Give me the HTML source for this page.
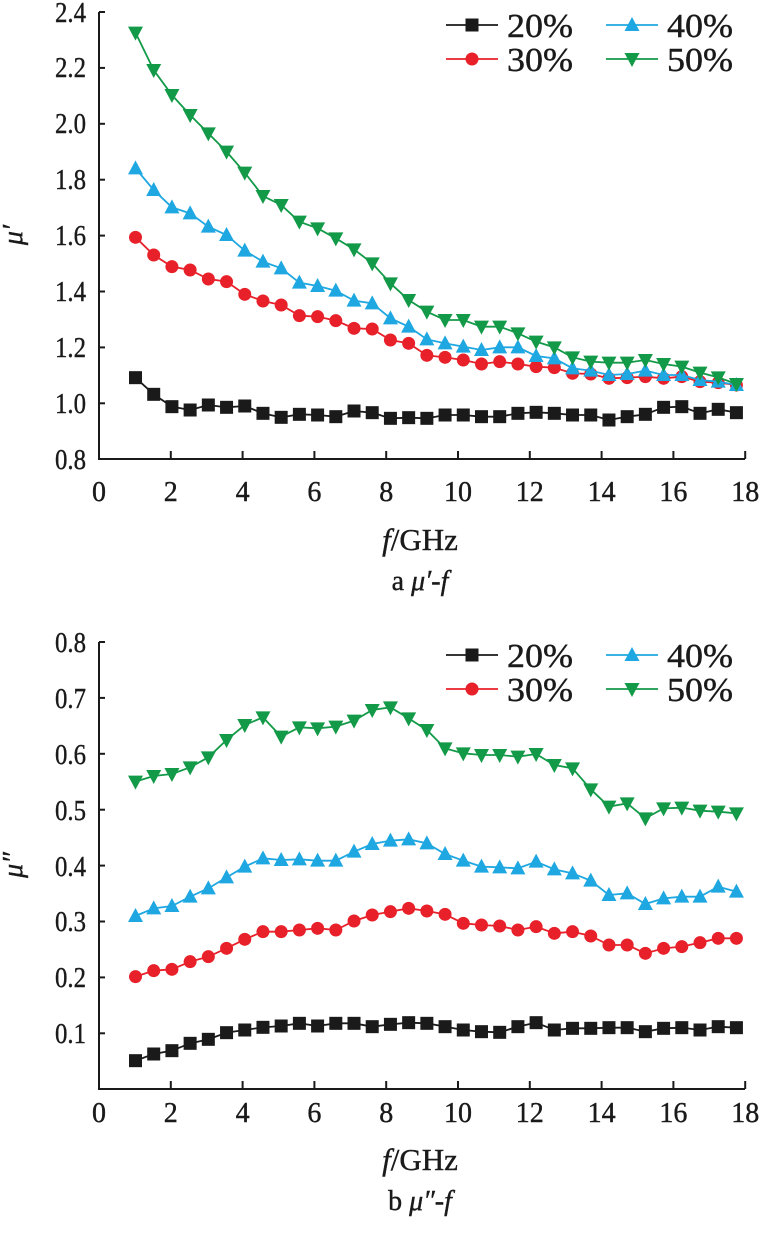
<!DOCTYPE html>
<html><head><meta charset="utf-8"><style>
html,body{margin:0;padding:0;background:#fff}
svg{display:block}
text{font-family:"Liberation Serif","DejaVu Serif",serif;fill:#1a1a1a;stroke:#1a1a1a;stroke-width:0.4}
</style></head><body>
<svg id="s" width="763" height="1234" viewBox="0 0 763 1234" xmlns="http://www.w3.org/2000/svg">
<g id="axes" stroke="#1a1a1a" stroke-width="2" fill="none">
<path d="M99 12 V459 H745"/>
<path d="M99 642 V1089 H745"/>
</g>
<g font-size="28" text-anchor="end" lengthAdjust="spacingAndGlyphs">
<text x="86" y="22" textLength="31" lengthAdjust="spacingAndGlyphs">2.4</text>
<text x="86" y="77" textLength="31" lengthAdjust="spacingAndGlyphs">2.2</text>
<text x="86" y="133" textLength="31" lengthAdjust="spacingAndGlyphs">2.0</text>
<text x="86" y="189" textLength="31" lengthAdjust="spacingAndGlyphs">1.8</text>
<text x="86" y="245" textLength="31" lengthAdjust="spacingAndGlyphs">1.6</text>
<text x="86" y="301" textLength="31" lengthAdjust="spacingAndGlyphs">1.4</text>
<text x="86" y="357" textLength="31" lengthAdjust="spacingAndGlyphs">1.2</text>
<text x="86" y="413" textLength="31" lengthAdjust="spacingAndGlyphs">1.0</text>
<text x="86" y="469" textLength="31" lengthAdjust="spacingAndGlyphs">0.8</text>
<text x="86" y="652" textLength="31" lengthAdjust="spacingAndGlyphs">0.8</text>
<text x="86" y="708" textLength="31" lengthAdjust="spacingAndGlyphs">0.7</text>
<text x="86" y="764" textLength="31" lengthAdjust="spacingAndGlyphs">0.6</text>
<text x="86" y="820" textLength="31" lengthAdjust="spacingAndGlyphs">0.5</text>
<text x="86" y="876" textLength="31" lengthAdjust="spacingAndGlyphs">0.4</text>
<text x="86" y="931" textLength="31" lengthAdjust="spacingAndGlyphs">0.3</text>
<text x="86" y="987" textLength="31" lengthAdjust="spacingAndGlyphs">0.2</text>
<text x="86" y="1043" textLength="31" lengthAdjust="spacingAndGlyphs">0.1</text>
</g>
<g id="xt" font-size="28" text-anchor="middle"></g>
<text x="22" y="235" font-size="28" font-style="italic" transform="rotate(-90 22 235)" text-anchor="middle">μ′</text>
<text x="22" y="865" font-size="28" font-style="italic" transform="rotate(-90 22 865)" text-anchor="middle">μ″</text>
<text x="420" y="550" font-size="31" text-anchor="middle"><tspan font-style="italic">f</tspan>/GHz</text>
<text x="420" y="590" font-size="28" text-anchor="middle">a <tspan font-style="italic">μ′-f</tspan></text>
<text x="420" y="1170" font-size="31" text-anchor="middle"><tspan font-style="italic">f</tspan>/GHz</text>
<text x="420" y="1210" font-size="28" text-anchor="middle">b <tspan font-style="italic">μ″-f</tspan></text>
<g id="data"></g>
</svg>
<script>
var NS="http://www.w3.org/2000/svg",s=document.getElementById('data'),xt=document.getElementById('xt');
var axes=document.getElementById('axes');
function el(t,a,p){var e=document.createElementNS(NS,t);for(var k in a)e.setAttribute(k,a[k]);(p||s).appendChild(e);return e;}
for(var i=0;i<=9;i++){var x=99+i*2*35.9;
 if(i>0){el('line',{x1:x,y1:459,x2:x,y2:451},axes);el('line',{x1:x,y1:1089,x2:x,y2:1081},axes);}
 var t=el('text',{x:x,y:501},xt);t.textContent=String(i*2);
 t=el('text',{x:x,y:1122},xt);t.textContent=String(i*2);}
for(var v=0;v<8;v++){el('line',{x1:99,y1:12+v*55.9,x2:105,y2:12+v*55.9},axes);el('line',{x1:99,y1:642+v*55.9,x2:105,y2:642+v*55.9},axes);}
var C={k:'#1a1a1a',r:'#e8202a',b:'#1ea7e1',g:'#139a48'};
function mk(type,x,y,c){
 if(type=='sq')el('rect',{x:x-6.5,y:y-6.5,width:13,height:13,fill:c});
 else if(type=='ci')el('circle',{cx:x,cy:y,r:6.5,fill:c});
 else if(type=='up')el('polygon',{points:(x-7.5)+','+(y+6)+' '+(x+7.5)+','+(y+6)+' '+x+','+(y-8),fill:c});
 else el('polygon',{points:(x-7.5)+','+(y-6)+' '+(x+7.5)+','+(y-6)+' '+x+','+(y+8),fill:c});
}
function series(zs,off,c,type){var pts=[];for(var i=0;i<zs.length;i++){pts.push([135.5+i*18.21,zs[i]/3+off]);}
 el('polyline',{points:pts.map(function(p){return p.join(',')}).join(' '),fill:'none',stroke:c,'stroke-width':1.8});
 pts.forEach(function(p){mk(type,p[0],p[1],c)});}
var T={k:[1133,1183,1220,1230,1215,1222,1218,1240,1252,1243,1245,1250,1233,1238,1255,1253,1255,1245,1245,1250,1250,1240,1237,1240,1245,1245,1260,1250,1243,1222,1220,1240,1228,1238],
r:[712,765,800,810,837,845,883,903,915,947,950,962,985,987,1020,1030,1066,1072,1080,1092,1085,1092,1100,1103,1120,1122,1135,1133,1130,1135,1130,1145,1148,1155],
b:[505,570,622,640,680,705,752,785,805,848,858,872,902,910,955,980,1018,1030,1040,1050,1042,1042,1068,1075,1105,1112,1125,1122,1112,1125,1125,1140,1145,1155],
g:[98,210,285,345,400,455,518,588,615,665,685,715,748,790,850,900,935,960,960,980,980,1000,1025,1042,1072,1085,1088,1088,1080,1092,1100,1118,1132,1152]};
var B={k:[1292,1272,1262,1240,1228,1208,1200,1192,1188,1180,1188,1180,1180,1190,1183,1178,1180,1190,1200,1205,1207,1190,1178,1200,1195,1195,1193,1193,1205,1195,1193,1200,1190,1193],
r:[1040,1022,1018,995,980,955,928,905,905,900,895,900,873,855,845,835,843,853,880,885,888,900,890,910,905,918,945,945,970,955,950,938,925,925],
b:[858,835,828,800,775,742,710,685,690,688,692,692,665,642,632,628,640,672,692,710,712,715,695,718,730,752,795,790,822,805,800,800,770,785],
g:[455,438,432,412,382,330,285,262,320,292,295,290,272,240,232,265,300,355,370,375,375,380,372,405,415,478,530,520,565,535,533,542,545,550]};
var types={k:'sq',r:'ci',b:'up',g:'dn'};
['k','r','b','g'].forEach(function(k){series(T[k],0,C[k],types[k]);series(B[k],630,C[k],types[k]);});
function legend(y0){
 var L=[['k','20%',446,y0],['r','30%',446,y0+34],['b','40%',606,y0],['g','50%',606,y0+34]];
 L.forEach(function(l){el('line',{x1:l[2],y1:l[3],x2:l[2]+52,y2:l[3],stroke:C[l[0]],'stroke-width':1.8});
  mk(types[l[0]],l[2]+26,l[3],C[l[0]]);
  var t=el('text',{x:l[2]+61,y:l[3]+12,'font-size':34,textLength:66,lengthAdjust:'spacingAndGlyphs'});t.textContent=l[1];});
}
legend(25);legend(655);
</script>
</body></html>
